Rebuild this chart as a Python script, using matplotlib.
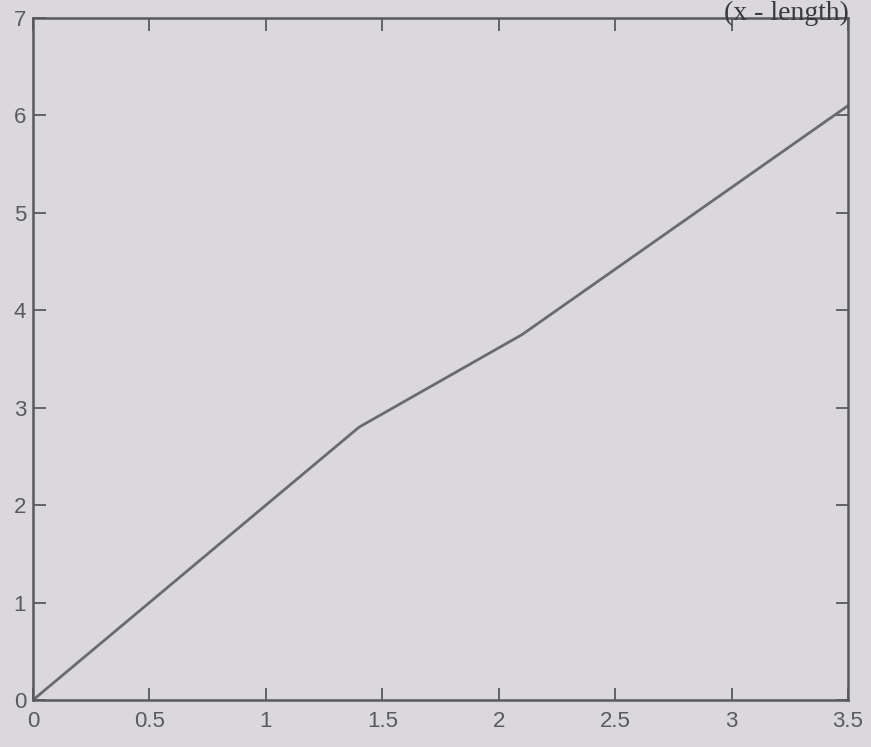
import matplotlib
matplotlib.use("Agg")
import matplotlib.pyplot as plt

# values
x_vals = [0, 1.4, 2.1, 3.5]
y_vals = [0, 2.8, 3.75, 6.1]
x_ticks = [0, 0.5, 1, 1.5, 2, 2.5, 3, 3.5]
x_tick_labels = ["0", "0.5", "1", "1.5", "2", "2.5", "3", "3.5"]
y_ticks = [0, 1, 2, 3, 4, 5, 6, 7]

paper = "#dad8dc"
ink = "#5a5a5e"

fig = plt.figure(figsize=(8.71, 7.47), dpi=100, facecolor=paper)
ax = fig.add_axes([33 / 871, 1 - 700 / 747, 815 / 871, 682 / 747])
ax.set_facecolor(paper)

ax.plot(x_vals, y_vals, color="#6a6a70", linewidth=2)

ax.set_xlim(0, 3.5)
ax.set_ylim(0, 7)
ax.set_xticks(x_ticks)
ax.set_xticklabels(x_tick_labels)
ax.set_yticks(y_ticks)
ax.tick_params(direction="in", top=True, right=True, length=9, width=1.3,
               color=ink, labelcolor=ink, labelsize=16)
ax.tick_params(axis="x", pad=8)
ax.tick_params(axis="y", pad=5)
for lbl in ax.get_xticklabels() + ax.get_yticklabels():
    lbl.set_family("Liberation Sans")
for s in ax.spines.values():
    s.set_color(ink)
    s.set_linewidth(1.8)

# title of the original figure, mostly cut off at the top of the scan
fig.text(0.975, 0.999, "(x - length)", ha="right", va="top",
         fontsize=20, family="Liberation Serif", color="#3a3a3e")

fig.savefig("out.png", dpi=100, facecolor=paper)
